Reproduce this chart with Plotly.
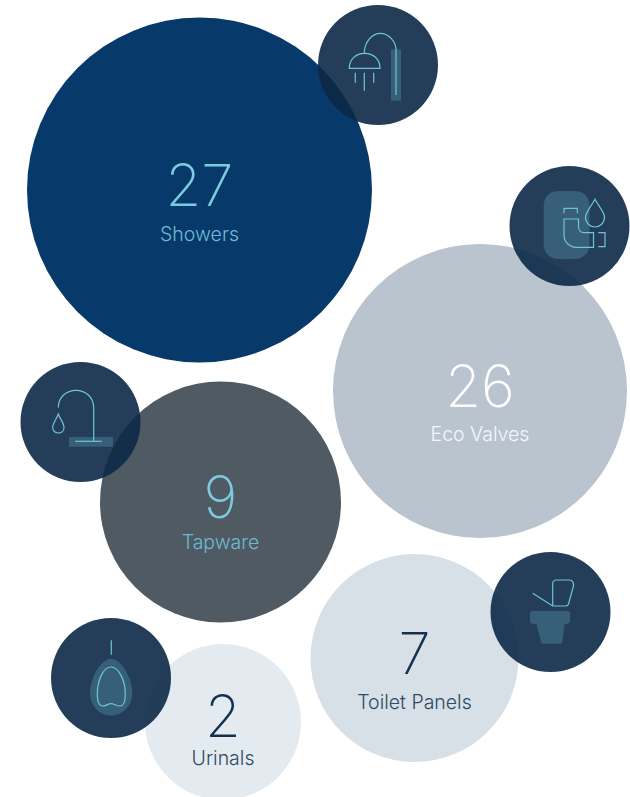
import plotly.graph_objects as go

# ---- data ----
categories = ["Showers", "Eco Valves", "Tapware", "Toilet Panels", "Urinals"]
values = [27, 26, 9, 7, 2]

# ---- layout in page pixels ----
bubble_x = [199.5, 480, 220.5, 414.5, 223]
bubble_y = [190, 391, 502, 658, 722]
bubble_d = [345, 294, 241, 208, 156]
bubble_colors = ["#07396b", "#b9c4cf", "#4f5a63", "#d7dfe7", "#e4ebf0"]
number_y = [191.5, 392.5, 503.5, 659, 722.5]
label_y = [236, 436, 544, 704, 760]
number_colors = ["#7ccbe0", "#ffffff", "#7ccbe0", "#14304d", "#14304d"]
label_colors = ["#6fb9d3", "#f4f7f9", "#6fb9d3", "#2f4a63", "#2f4a63"]

icon_x = [378, 569.5, 80.5, 550.5, 111]
icon_y = [65, 226, 422, 612, 678]
ICON_D = 120
ICON_COLOR = "rgba(12,41,71,0.9)"
LINE = "#6fc4d8"
PATCH = "rgba(111,196,216,0.25)"

# icon glyphs, drawn relative to each badge's centre: (kind, [commands])
shower = [
    ("fill", "M13,-15.7 L23,-15.7 L23,35.7 L13,35.7 Z"),
    ("line", "M-13.7,-12 C-13.7,-23 -6,-31.7 2.5,-31.7 C11,-31.7 18,-23 18,-15 L18,30"),
    ("line", "M-28.7,3.3 C-28.7,-6 -22,-11.7 -13.4,-11.7 C-5,-11.7 2,-6 2,3.3 Z"),
    ("line", "M-22.7,7.7 L-22.7,17.7"),
    ("line", "M-13.7,7.7 L-13.7,25.7"),
    ("line", "M-4.3,7.7 L-4.3,17.7"),
]
valve = [
    ("fill", "M-10.8,-35 L5,-35 C14,-35 20,-29 20,-20 L20,18 C20,27 14,33 5,33 L-10.8,33 C-20,33 -25.8,27 -25.8,18 L-25.8,-20 C-25.8,-29 -20,-35 -10.8,-35 Z"),
    ("line", "M-5.5,-12.7 L-5.5,-17.7 L7.8,-17.7 L7.8,-12.7"),
    ("line", "M-5.5,-7 L-5.5,9 C-5.5,16 0,21.3 7.2,21.3 L24,21.3 L24,6.7 L14.5,6.7 C11,6.7 9,4 9,0.7 L9,-7 Z"),
    ("line", "M28.8,6.7 L35.5,6.7 L35.5,20.7 L28.8,20.7"),
    ("line", "M25.5,-26.7 C22,-20 16,-14 16,-8.7 C16,-3 20.5,1 25.5,1 C30.5,1 35,-3 35,-8.7 C35,-14 29,-20 25.5,-26.7 Z"),
]
tap = [
    ("fill", "M-11.5,15 L32.5,15 L32.5,24.7 L-11.5,24.7 Z"),
    ("line", "M-5.5,19.3 L21.2,19.3"),
    ("line", "M13.2,19.3 L13.2,-14 C13.2,-25 5,-31.7 -4.5,-31.7 C-14,-31.7 -22.2,-25 -22.2,-14.5"),
    ("line", "M-22.2,-8 C-24,-3 -27.8,1 -27.8,5.5 C-27.8,8.7 -25.3,11 -22.2,11 C-19,11 -16.5,8.7 -16.5,5.5 C-16.5,1 -20.5,-3 -22.2,-8 Z"),
]
toilet = [
    ("fill", "M-18.5,-1 L17.5,-1 C19,-1 19.5,0 19.5,1 L19.5,9 C19.5,11 18,11.5 16.5,11.8 L14,12.5 L11.8,30 C11.6,31.2 11,31.7 10,31.7 L-7.5,31.7 C-8.5,31.7 -9,31.2 -9.3,30 L-14,12.5 L-17.5,11.8 C-19.5,11.5 -20.5,11 -20.5,9 L-20.5,1 C-20.5,0 -19.5,-1 -18.5,-1 Z"),
    ("line", "M-17.8,-18.7 L2.2,-6 L15.5,-6 C17,-6 17.6,-6.8 18,-8 L23,-26 C23.4,-29 22,-32 19,-32 L6,-32 C3.5,-32 2.2,-30 2.2,-28 L2.2,-6"),
]
urinal = [
    ("fill", "M0,-19.3 C-10,-19.3 -21,0 -21,15 C-21,29 -10,37.7 0,37.7 C10,37.7 21.3,29 21.3,15 C21.3,0 10,-19.3 0,-19.3 Z"),
    ("line", "M0.3,-37.7 L0.3,-23.3"),
    ("line", "M0,-11 C-8,-11 -13.7,3 -13.7,16 C-13.7,23 -12.5,28 -8,28 C-5,28 -3,25.7 0,25.7 C3,25.7 5,28 9,28 C13,28 14.3,23 14.3,16 C14.3,3 8,-11 0,-11 Z"),
]
glyphs = [shower, valve, tap, toilet, urinal]


def place(path, cx, cy):
    """Shift a relative glyph path to a badge centre."""
    out = []
    for tok in path.replace("Z", " Z").split():
        if tok == "Z":
            out.append("Z")
            continue
        cmd = tok[0] if tok[0].isalpha() else ""
        a, b = tok.lstrip("MLC").split(",")
        out.append(f"{cmd}{float(a) + cx:.2f},{float(b) + cy:.2f}")
    return " ".join(out)


fig = go.Figure()
fig.add_trace(go.Scatter(
    x=bubble_x, y=bubble_y, mode="markers", text=categories,
    marker=dict(size=bubble_d, sizemode="diameter", color=bubble_colors, line=dict(width=0), opacity=1),
    hoverinfo="text", showlegend=False,
))
fig.add_trace(go.Scatter(
    x=icon_x, y=icon_y, mode="markers",
    marker=dict(size=ICON_D, color=ICON_COLOR, line=dict(width=0)),
    hoverinfo="skip", showlegend=False,
))
fig.add_trace(go.Scatter(
    x=bubble_x, y=number_y, mode="text", text=[str(v) for v in values],
    textposition="middle center",
    textfont=dict(family="Inter", size=58, color=number_colors, weight=200),
    hoverinfo="skip", showlegend=False,
))
fig.add_trace(go.Scatter(
    x=bubble_x, y=label_y, mode="text", text=categories,
    textposition="middle center",
    textfont=dict(family="Inter", size=19.5, color=label_colors, weight=300),
    hoverinfo="skip", showlegend=False,
))

shapes = []
for glyph, cx, cy in zip(glyphs, icon_x, icon_y):
    for kind, path in glyph:
        d = dict(type="path", path=place(path, cx, cy), xref="x", yref="y", layer="above")
        if kind == "fill":
            d.update(fillcolor=PATCH, line=dict(width=0))
        else:
            d.update(line=dict(color=LINE, width=1.2), fillcolor="rgba(0,0,0,0)")
        shapes.append(d)

fig.update_layout(
    width=630, height=797, margin=dict(l=0, r=0, t=0, b=0),
    paper_bgcolor="white", plot_bgcolor="white", shapes=shapes,
    xaxis=dict(range=[0, 630], visible=False, fixedrange=True),
    yaxis=dict(range=[797, 0], visible=False, fixedrange=True),
)
fig.write_html("out.html", config={"displayModeBar": False},
               post_script="document.body.style.margin='0';")
